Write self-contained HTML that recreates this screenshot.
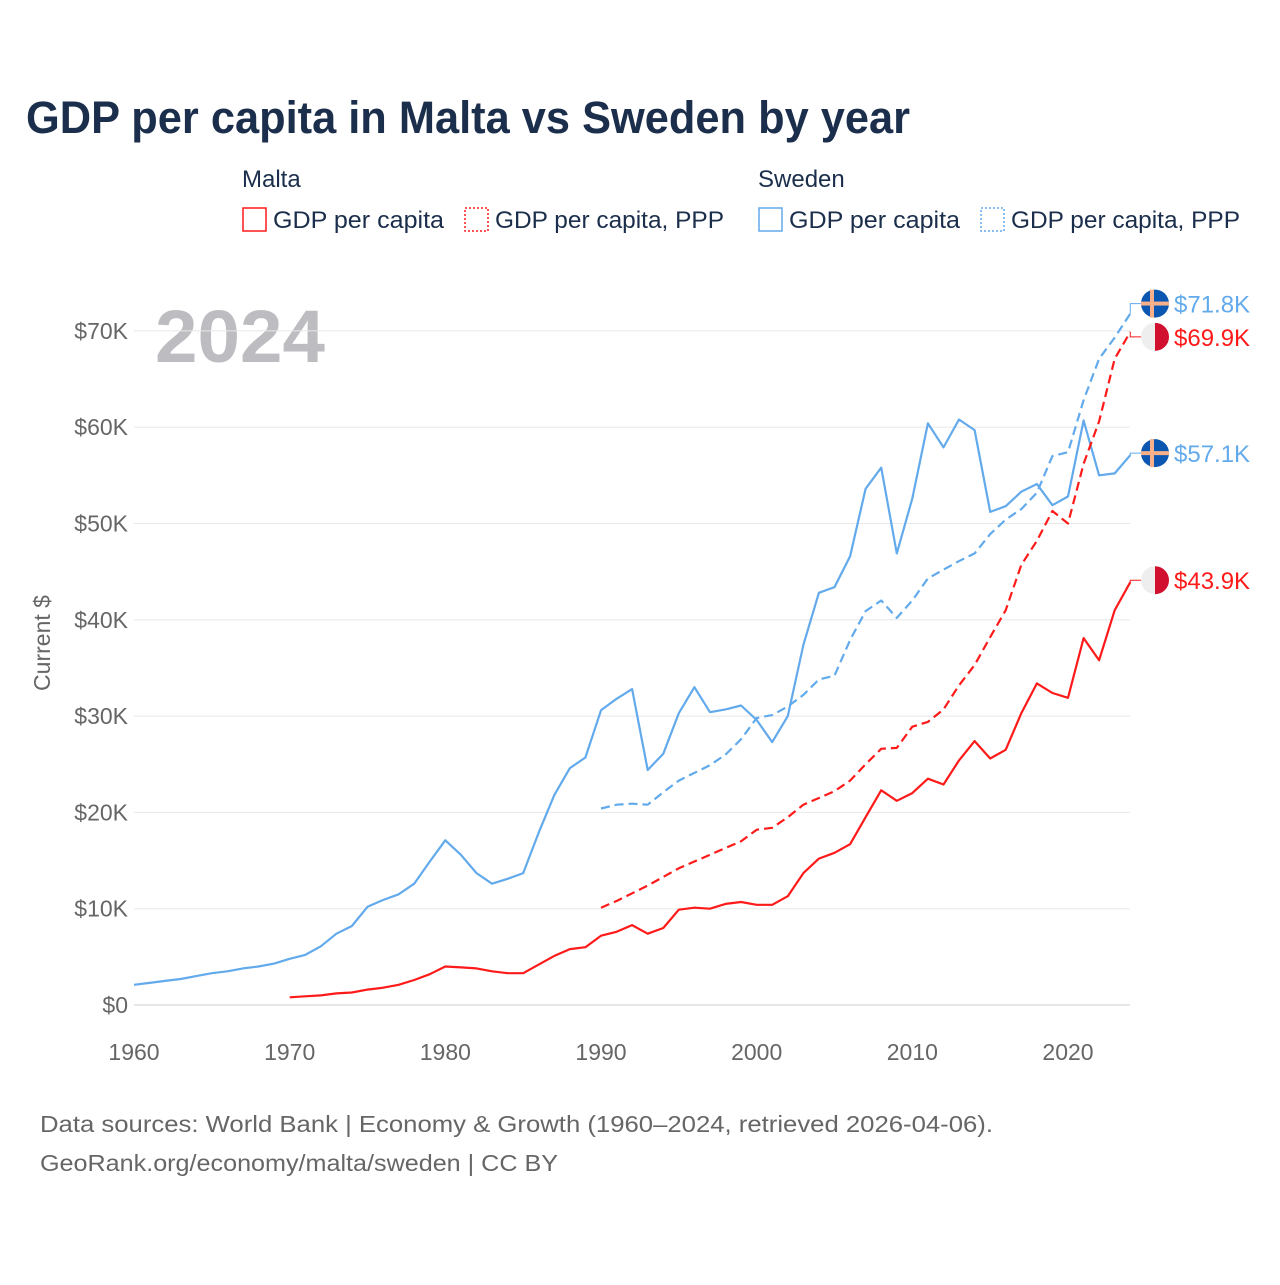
<!DOCTYPE html>
<html><head><meta charset="utf-8"><style>
body{margin:0;background:#fff;font-family:"Liberation Sans",sans-serif;}
svg text{font-family:"Liberation Sans",sans-serif;}
</style></head><body>
<svg width="1280" height="1280" viewBox="0 0 1280 1280" xmlns="http://www.w3.org/2000/svg" id="chart">
<text x="26" y="133" font-size="45" font-weight="bold" fill="#1b2e4b" textLength="884" lengthAdjust="spacingAndGlyphs">GDP per capita in Malta vs Sweden by year</text>
<g font-size="24" fill="#1b2e4b">
<text x="242" y="187">Malta</text>
<text x="758" y="187">Sweden</text>
<g><rect x="243" y="208" width="23" height="23" fill="none" stroke="#ff1a1a" stroke-width="1.5"/><text x="273" y="228" textLength="171" lengthAdjust="spacingAndGlyphs">GDP per capita</text></g>
<g><rect x="465" y="208" width="23" height="23" fill="none" stroke="#ff1a1a" stroke-width="1.5" stroke-dasharray="2 2"/><text x="495" y="228" textLength="229" lengthAdjust="spacingAndGlyphs">GDP per capita, PPP</text></g>
<g><rect x="759" y="208" width="23" height="23" fill="none" stroke="#62aaeb" stroke-width="1.5"/><text x="789" y="228" textLength="171" lengthAdjust="spacingAndGlyphs">GDP per capita</text></g>
<g><rect x="981" y="208" width="23" height="23" fill="none" stroke="#62aaeb" stroke-width="1.5" stroke-dasharray="2 2"/><text x="1011" y="228" textLength="229" lengthAdjust="spacingAndGlyphs">GDP per capita, PPP</text></g>
</g>
<text x="155" y="362" font-size="74" font-weight="bold" fill="#bdbdc1" textLength="170" lengthAdjust="spacingAndGlyphs">2024</text>
<g id="grid"></g><g id="axes"></g><g id="series"></g><g id="ends"></g>
<text transform="translate(50,643) rotate(-90)" text-anchor="middle" font-size="23" fill="#666">Current $</text>
<text x="40" y="1132" font-size="23" fill="#666" textLength="953" lengthAdjust="spacingAndGlyphs">Data sources: World Bank | Economy &amp; Growth (1960–2024, retrieved 2026-04-06).</text>
<text x="40" y="1171" font-size="23" fill="#666" textLength="518" lengthAdjust="spacingAndGlyphs">GeoRank.org/economy/malta/sweden | CC BY</text>
</svg>
<script>
const yTicks=[0,10,20,30,40,50,60,70];
const xTicks=[1960,1970,1980,1990,2000,2010,2020];
const swedenGdp=[2.1,2.3,2.5,2.7,3.0,3.3,3.5,3.8,4.0,4.3,4.8,5.2,6.1,7.4,8.2,10.2,10.9,11.5,12.6,14.9,17.1,15.6,13.7,12.6,13.1,13.7,17.9,21.8,24.6,25.7,30.6,31.8,32.8,24.4,26.1,30.3,33.0,30.4,30.7,31.1,29.6,27.3,30.0,37.4,42.8,43.4,46.6,53.6,55.8,46.9,52.6,60.4,57.9,60.8,59.7,51.2,51.8,53.3,54.1,51.9,52.8,60.7,55.0,55.2,57.1];
const swedenPpp=[20.4,20.8,20.9,20.8,22.1,23.3,24.1,24.9,26.0,27.6,29.8,30.1,31.0,32.2,33.8,34.2,37.9,40.9,42.0,40.2,42.0,44.3,45.2,46.1,46.9,48.9,50.4,51.5,53.2,57.0,57.4,62.8,67.1,69.3,71.8];
const maltaGdp=[0.8,0.9,1.0,1.2,1.3,1.6,1.8,2.1,2.6,3.2,4.0,3.9,3.8,3.5,3.3,3.3,4.2,5.1,5.8,6.0,7.2,7.6,8.3,7.4,8.0,9.9,10.1,10.0,10.5,10.7,10.4,10.4,11.3,13.7,15.2,15.8,16.7,19.5,22.3,21.2,22.0,23.5,22.9,25.4,27.4,25.6,26.5,30.3,33.4,32.4,31.9,38.1,35.8,41.0,43.9];
const maltaPpp=[10.1,10.8,11.6,12.4,13.3,14.2,14.9,15.6,16.3,17.0,18.2,18.4,19.5,20.8,21.5,22.2,23.3,25.0,26.6,26.7,28.9,29.4,30.7,33.2,35.3,38.2,41.0,45.7,48.2,51.3,50.0,56.2,60.6,67.1,69.9];
const NS="http://www.w3.org/2000/svg";
const X=y=>134+(y-1960)*934/60;
const Y=v=>1005-v*9.63;
function mk(t,a,p){const e=document.createElementNS(NS,t);for(const k in a)e.setAttribute(k,a[k]);p.appendChild(e);return e;}
const grid=document.getElementById('grid'),axes=document.getElementById('axes'),ser=document.getElementById('series'),ends=document.getElementById('ends');
yTicks.forEach(v=>{
 const l=mk('line',{x1:134,x2:1130,y1:Y(v),y2:Y(v),stroke:v===0?'#ddd':'#e8e8e8','stroke-width':v===0?1.5:1},grid);
 
 
 const t=mk('text',{x:128,y:Y(v)+8,'text-anchor':'end','font-size':23,fill:'#666'},axes);
 t.textContent=v===0?'$0':'$'+v+'K';
 
 
});
xTicks.forEach(v=>{
 const t=mk('text',{x:X(v),y:1060,'text-anchor':'middle','font-size':23,fill:'#666'},axes);
 t.textContent=v;
 
 
});
function line(arr,start,color,dash,name){
 const d=arr.map((v,i)=>(i?'L':'M')+X(start+i).toFixed(1)+' '+Y(v).toFixed(1)).join(' ');
 const p=mk('path',{d:d,fill:'none',stroke:color,'stroke-width':2.2,'stroke-linejoin':'round'},ser);
 if(dash)p.setAttribute('stroke-dasharray','9 5');
 
 
}
line(swedenGdp,1960,'#62aaeb',false,'line-sweden-gdp');
line(swedenPpp,1990,'#62aaeb',true,'line-sweden-ppp');
line(maltaGdp,1970,'#ff1a1a',false,'line-malta-gdp');
line(maltaPpp,1990,'#ff1a1a',true,'line-malta-ppp');
function endLabel(v,color,country,yoff,name){
 const yy=Y(v)+yoff, fx=1155;
 mk('path',{d:`M${X(2024)} ${Y(v)} V${yy} H${fx-14}`,stroke:color,'stroke-width':1,fill:'none'},ends);
 const g=mk('g',{},ends);
 
 
 if(country==='se'){
  mk('circle',{cx:fx,cy:yy,r:14,fill:'#0a56b0'},g);
  mk('rect',{x:fx-14,y:yy-2,width:28,height:4,fill:'#f7b08a'},g);
  mk('rect',{x:fx-5,y:yy-14,width:4,height:28,fill:'#f7b08a'},g);
 }else{
  mk('circle',{cx:fx,cy:yy,r:14,fill:'#eeeeee'},g);
  mk('path',{d:`M${fx} ${yy-14} A14 14 0 0 1 ${fx} ${yy+14} Z`,fill:'#d0102e'},g);
 }
 const t=mk('text',{x:1174,y:yy+9,'font-size':24,fill:color},g);
 t.textContent='$'+v.toFixed(1)+'K';
}
endLabel(swedenPpp[swedenPpp.length-1],'#62aaeb','se',-10,'end-label-sweden-ppp');
endLabel(maltaPpp[maltaPpp.length-1],'#ff1a1a','mt',5,'end-label-malta-ppp');
endLabel(swedenGdp[swedenGdp.length-1],'#62aaeb','se',-2,'end-label-sweden-gdp');
endLabel(maltaGdp[maltaGdp.length-1],'#ff1a1a','mt',-2,'end-label-malta-gdp');
</script>
</body></html>
